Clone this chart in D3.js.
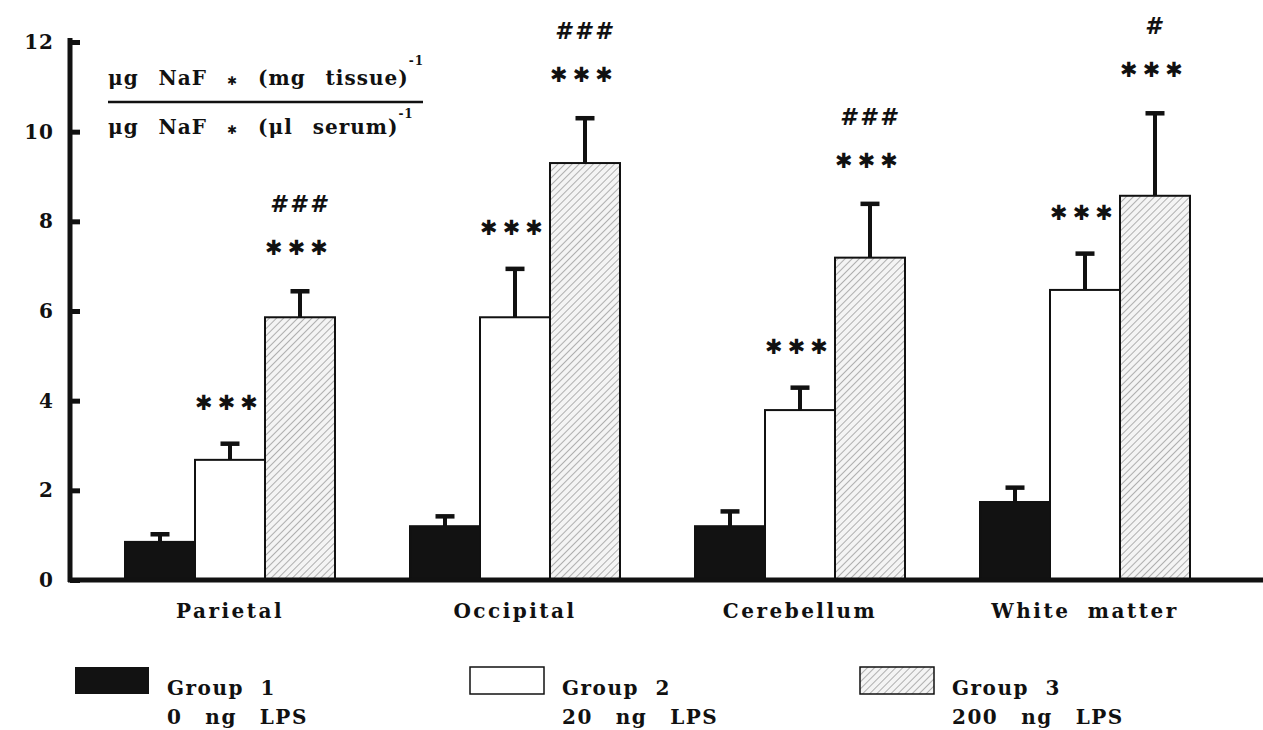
<!DOCTYPE html>
<html>
<head>
<meta charset="utf-8">
<script src="https://cdn.jsdelivr.net/npm/d3@7"></script>
<style>
  html, body { margin: 0; padding: 0; background: #fff; }
  svg { display: block; }
  text { font-family: "DejaVu Serif", "Liberation Serif", serif; font-weight: bold; fill: #111; }
</style>
</head>
<body>
<svg id="chart" width="1263" height="730"></svg>
<script>
// ---- data ----
const categories = ["Parietal", "Occipital", "Cerebellum", "White matter"];
const groups = ["Group 1", "Group 2", "Group 3"];
const groupDoses = ["0  ng  LPS", "20  ng  LPS", "200  ng  LPS"];
const group1Values = [0.85, 1.20, 1.20, 1.74];
const group1Errors = [0.17, 0.22, 0.33, 0.32];
const group2Values = [2.68, 5.86, 3.79, 6.47];
const group2Errors = [0.36, 1.08, 0.50, 0.81];
const group3Values = [5.86, 9.30, 7.19, 8.57];
const group3Errors = [0.58, 1.00, 1.20, 1.84];
const group2Marks = ["***", "***", "***", "***"];
const group3Marks = ["***", "***", "***", "***"];
const group3Hash = ["###", "###", "###", "#"];
const yTicks = [0, 2, 4, 6, 8, 10, 12];

const seriesValues = [group1Values, group2Values, group3Values];
const seriesErrors = [group1Errors, group2Errors, group3Errors];

const FONT = "'DejaVu Serif', 'Liberation Serif', serif";
const svg = d3.select("#chart");

// hatch pattern
const defs = svg.append("defs");
const pat = defs.append("pattern")
  .attr("id", "hatch").attr("patternUnits", "userSpaceOnUse")
  .attr("width", 5).attr("height", 5)
  .attr("patternTransform", "rotate(45)");
pat.append("rect").attr("width", 5).attr("height", 5).attr("fill", "#f4f4f4");
pat.append("line").attr("x1", 0).attr("y1", 0).attr("x2", 0).attr("y2", 5)
  .attr("stroke", "#8a8a8a").attr("stroke-width", 1.3);

const fills = ["#121212", "#ffffff", "url(#hatch)"];

// scales
const y = d3.scaleLinear().domain([0, 12]).range([580, 42]);
const x = d3.scaleBand().domain(categories).range([87.5, 1227.5])
  .paddingInner(0.2632).paddingOuter(0.1316);
const xg = d3.scaleBand().domain(groups).range([0, x.bandwidth()]);

const rows = [];
categories.forEach((c, i) => {
  groups.forEach((g, j) => {
    rows.push({ c, g, j, v: seriesValues[j][i], e: seriesErrors[j][i], i });
  });
});

// error bars
const eb = svg.append("g");
rows.forEach(d => {
  const cx = x(d.c) + xg(d.g) + xg.bandwidth() / 2;
  eb.append("line").attr("x1", cx).attr("x2", cx)
    .attr("y1", y(d.v)).attr("y2", y(d.v + d.e))
    .attr("stroke", "#111").attr("stroke-width", 4);
  eb.append("line").attr("x1", cx - 9.5).attr("x2", cx + 9.5)
    .attr("y1", y(d.v + d.e)).attr("y2", y(d.v + d.e))
    .attr("stroke", "#111").attr("stroke-width", 4.5);
});

svg.append("g").selectAll("rect").data(rows).join("rect")
  .attr("x", d => x(d.c) + xg(d.g))
  .attr("y", d => y(d.v))
  .attr("width", xg.bandwidth())
  .attr("height", d => y(0) - y(d.v))
  .attr("fill", d => fills[d.j])
  .attr("stroke", "#111").attr("stroke-width", 2);

// significance marks
const starStyle = sel => sel
  .attr("text-anchor", "middle")
  .style("font-family", "'DejaVu Sans', sans-serif").style("font-weight", "bold")
  .style("font-size", "21px").style("letter-spacing", "5px");
const hashStyle = sel => sel
  .attr("text-anchor", "middle")
  .style("font-family", "'DejaVu Sans', sans-serif")
  .style("font-style", "italic").style("font-weight", "bold")
  .style("font-size", "23px").style("letter-spacing", "4px");

const marks = svg.append("g");
categories.forEach((c, i) => {
  const cx2 = x(c) + xg("Group 2") + xg.bandwidth() / 2 - 2;
  const top2 = y(group2Values[i] + group2Errors[i]);
  marks.append("text").attr("x", cx2 + 1).attr("y", top2 - 34)
    .text(group2Marks[i].replace(/\*/g, "\u2731")).call(starStyle);
  const cx3 = x(c) + xg("Group 3") + xg.bandwidth() / 2 - 2;
  const top3 = y(group3Values[i] + group3Errors[i]);
  marks.append("text").attr("x", cx3 + 1).attr("y", top3 - 36)
    .text(group3Marks[i].replace(/\*/g, "\u2731")).call(starStyle);
  marks.append("text").attr("x", cx3 + 2).attr("y", top3 - 79)
    .text(group3Hash[i]).call(hashStyle);
});

// y axis
const yAxis = d3.axisLeft(y).tickValues(yTicks).tickFormat(d3.format("d"))
  .tickSizeInner(-10).tickSizeOuter(0).tickPadding(16);
const yg = svg.append("g").attr("transform", "translate(70,0)").call(yAxis);
yg.select(".domain").attr("stroke", "#111").attr("stroke-width", 5)
  .attr("d", `M0,${y(12) - 4}V${y(0) + 2}`);
yg.selectAll(".tick line").attr("stroke", "#111").attr("stroke-width", 5);
yg.selectAll(".tick text")
  .style("font-family", FONT).style("font-weight", "bold")
  .style("font-size", "20px").style("letter-spacing", "1px").attr("fill", "#111");

// x axis
const xAxis = d3.axisBottom(x).tickSize(0).tickPadding(24);
const xgAxis = svg.append("g").attr("transform", `translate(0,${y(0)})`).call(xAxis);
xgAxis.select(".domain").attr("stroke", "#111").attr("stroke-width", 5)
  .attr("d", "M68,0H1263");
xgAxis.selectAll(".tick text")
  .style("font-family", FONT).style("font-weight", "bold")
  .style("font-size", "20px").style("letter-spacing", "2.5px").style("word-spacing", "8px")
  .attr("fill", "#111");

// y label (fraction)
const lab = svg.append("g");
const num = lab.append("text").attr("x", 108).attr("y", 85)
  .style("font-size", "20px").style("word-spacing", "12px").style("letter-spacing", "1px");
num.append("tspan").text("\u03bcg NaF ");
num.append("tspan").style("font-family", "'DejaVu Sans', sans-serif").style("font-size", "12px").text("\u2731");
num.append("tspan").text(" (mg tissue)");
num.append("tspan").attr("dy", -20).style("font-size", "12px").text("-1");
lab.append("line").attr("x1", 108).attr("x2", 423).attr("y1", 102).attr("y2", 102)
  .attr("stroke", "#111").attr("stroke-width", 2.5);
const den = lab.append("text").attr("x", 108).attr("y", 134)
  .style("font-size", "20px").style("word-spacing", "12px").style("letter-spacing", "1px");
den.append("tspan").text("\u03bcg NaF ");
den.append("tspan").style("font-family", "'DejaVu Sans', sans-serif").style("font-size", "12px").text("\u2731");
den.append("tspan").text(" (\u03bcl serum)");
den.append("tspan").attr("dy", -16).style("font-size", "12px").text("-1");

// legend
const legX = [75, 470, 860];
const leg = svg.append("g");
groups.forEach((g, j) => {
  leg.append("rect").attr("x", legX[j]).attr("y", 667).attr("width", 74).attr("height", 27)
    .attr("fill", fills[j]).attr("stroke", "#111").attr("stroke-width", j === 0 ? 0 : 1.5);
  leg.append("text").attr("x", legX[j] + 92).attr("y", 695)
    .style("font-size", "20px").style("letter-spacing", "1.5px").style("word-spacing", "8px")
    .text(g);
  leg.append("text").attr("x", legX[j] + 92).attr("y", 724)
    .attr("xml:space", "preserve")
    .style("font-size", "20px").style("letter-spacing", "1.5px").style("word-spacing", "3px")
    .text(groupDoses[j]);
});
</script>
</body>
</html>
